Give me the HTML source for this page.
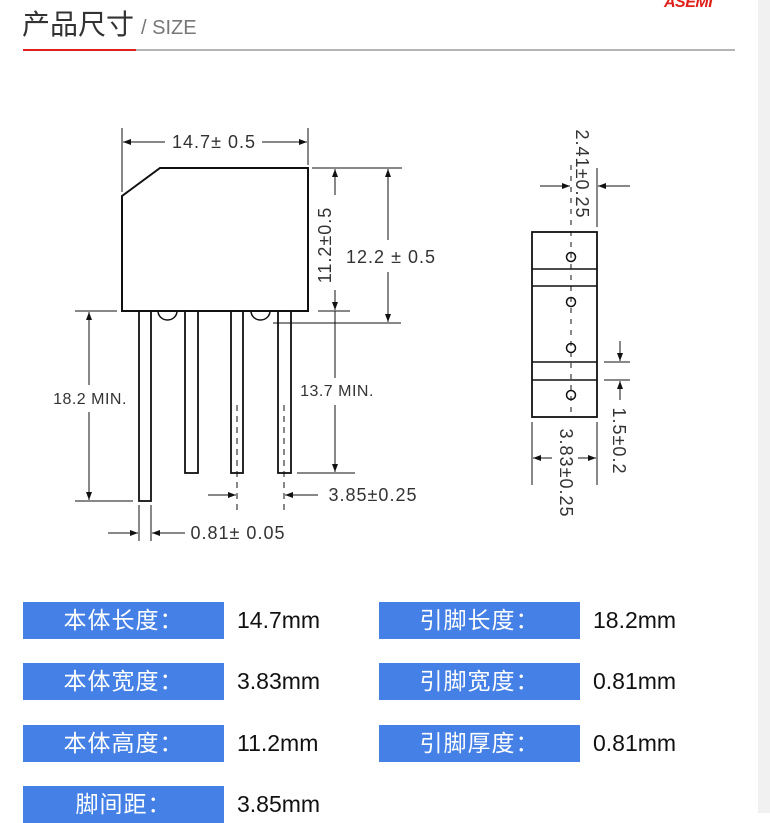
<!DOCTYPE html>
<html><head><meta charset="utf-8"><style>
body{margin:0;width:770px;height:813px;overflow:hidden;background:#fff;position:relative;font-family:"Liberation Sans","Noto Sans CJK SC",sans-serif}
.strip{position:absolute;left:758px;top:0;width:12px;height:813px;background:#f1f1f1}
.lbl{position:absolute;width:201px;height:37px;background:#4580e6;color:#fff;font-size:23px;line-height:37px;text-align:center;letter-spacing:1px}
.val{position:absolute;font-size:23px;line-height:37px;color:#111}
</style></head><body>
<div class="strip"></div>
<div style="position:absolute;left:22px;top:3px;font-size:28px;color:#333">产品尺寸<span style="font-size:20px;color:#777;margin-left:7px">/ SIZE</span></div>
<div style="position:absolute;left:664px;top:-6px;font-size:16px;font-weight:bold;font-style:italic;color:#e0201a;letter-spacing:-0.5px">ASEMI</div>
<div style="position:absolute;left:23px;top:49px;width:712px;height:2px;background:#b5b5b5"></div>
<div style="position:absolute;left:23px;top:49px;width:113px;height:2px;background:#e02020"></div>
<svg width="770" height="813" style="position:absolute;left:0;top:0" font-family="Liberation Sans, sans-serif" font-size="15" fill="#333">
<defs><marker id="a" markerWidth="8" markerHeight="6" refX="8" refY="3" orient="auto" markerUnits="userSpaceOnUse"><path d="M0,0 L8,3 L0,6z" fill="#111"/></marker></defs>
<g stroke="#111" fill="none" stroke-width="1">
<path d="M160,168 L308,168 L308,311 L122,311 L122,196 Z" stroke-width="2"/>
<rect x="139" y="311" width="12" height="190" stroke-width="1.8"/>
<rect x="185" y="311" width="13" height="162" stroke-width="1.8"/>
<rect x="231" y="311" width="12" height="162" stroke-width="1.8"/>
<rect x="278" y="311" width="13" height="162" stroke-width="1.8"/>
<path d="M158,311 A9.5,9 0 0 0 177,311" stroke-width="1.5"/>
<path d="M251,311 A9.5,9 0 0 0 270,311" stroke-width="1.5"/>
<line x1="122" y1="128" x2="122" y2="192"/><line x1="308" y1="128" x2="308" y2="165"/>
<line x1="165" y1="142" x2="123" y2="142" marker-end="url(#a)"/><line x1="262" y1="142" x2="307" y2="142" marker-end="url(#a)"/>
<line x1="312" y1="168" x2="402" y2="168"/><line x1="318" y1="311" x2="350" y2="311"/><line x1="273" y1="323" x2="401" y2="323"/>
<line x1="335" y1="195" x2="335" y2="169" marker-end="url(#a)"/><line x1="335" y1="290" x2="335" y2="310" marker-end="url(#a)"/>
<line x1="335" y1="311" x2="335" y2="378"/><line x1="335" y1="405" x2="335" y2="472" marker-end="url(#a)"/>
<line x1="297" y1="473" x2="355" y2="473"/>
<line x1="388" y1="240" x2="388" y2="169" marker-end="url(#a)"/><line x1="388" y1="272" x2="388" y2="322" marker-end="url(#a)"/>
<line x1="75" y1="311" x2="117" y2="311"/><line x1="75" y1="501" x2="133" y2="501"/>
<line x1="89" y1="385" x2="89" y2="312" marker-end="url(#a)"/><line x1="89" y1="412" x2="89" y2="500" marker-end="url(#a)"/>
<line x1="237" y1="405" x2="237" y2="510" stroke-dasharray="6,5"/><line x1="284" y1="405" x2="284" y2="510" stroke-dasharray="6,5"/>
<line x1="208" y1="495" x2="236" y2="495" marker-end="url(#a)"/><line x1="318" y1="495" x2="285" y2="495" marker-end="url(#a)"/>
<line x1="139" y1="505" x2="139" y2="541"/><line x1="151" y1="505" x2="151" y2="541"/>
<line x1="108" y1="533" x2="138" y2="533" marker-end="url(#a)"/><line x1="185" y1="533" x2="152" y2="533" marker-end="url(#a)"/>
<rect x="532" y="232" width="65" height="185" stroke-width="1.8"/>
<line x1="532" y1="269" x2="597" y2="269" stroke-width="1.5"/><line x1="532" y1="286" x2="597" y2="286" stroke-width="1.5"/>
<line x1="532" y1="362" x2="597" y2="362" stroke-width="1.5"/><line x1="532" y1="380" x2="597" y2="380" stroke-width="1.5"/>
<circle cx="571" cy="257" r="4.5" stroke-width="1.5"/><circle cx="571" cy="302" r="4.5" stroke-width="1.5"/><circle cx="571" cy="348" r="4.5" stroke-width="1.5"/><circle cx="571" cy="395" r="4.5" stroke-width="1.5"/>
<line x1="571" y1="165" x2="571" y2="415" stroke-dasharray="5,6"/>
<line x1="597" y1="168" x2="597" y2="227"/>
<line x1="540" y1="186" x2="570" y2="186" marker-end="url(#a)"/><line x1="630" y1="186" x2="598" y2="186" marker-end="url(#a)"/>
<line x1="604" y1="362" x2="630" y2="362"/><line x1="604" y1="380" x2="630" y2="380"/>
<line x1="620" y1="341" x2="620" y2="361" marker-end="url(#a)"/><line x1="620" y1="400" x2="620" y2="381" marker-end="url(#a)"/>
<line x1="532" y1="422" x2="532" y2="485"/><line x1="597" y1="422" x2="597" y2="485"/>
<line x1="552" y1="458" x2="533" y2="458" marker-end="url(#a)"/><line x1="578" y1="458" x2="596" y2="458" marker-end="url(#a)"/>
</g>
<g stroke="none" font-size="18" letter-spacing="1">
<text x="214" y="148" text-anchor="middle">14.7± 0.5</text>
<text x="391" y="263" text-anchor="middle">12.2 ± 0.5</text>
<text transform="translate(331,245) rotate(-90)" text-anchor="middle">11.2±0.5</text>
<text x="337" y="396" text-anchor="middle" font-size="16" letter-spacing="0.5">13.7 MIN.</text>
<text x="90" y="404" text-anchor="middle" font-size="16" letter-spacing="0.5">18.2 MIN.</text>
<text x="373" y="501" text-anchor="middle">3.85±0.25</text>
<text x="238" y="539" text-anchor="middle">0.81± 0.05</text>
<text transform="translate(576,174) rotate(90)" text-anchor="middle">2.41±0.25</text>
<text transform="translate(613,441) rotate(90)" text-anchor="middle">1.5±0.2</text>
<text transform="translate(560,473) rotate(90)" text-anchor="middle">3.83±0.25</text>
</g>
</svg>
<div class="lbl" style="left:23px;top:602px">本体长度：</div><div class="val" style="left:237px;top:602px">14.7mm</div>
<div class="lbl" style="left:379px;top:602px">引脚长度：</div><div class="val" style="left:593px;top:602px">18.2mm</div>
<div class="lbl" style="left:23px;top:663px">本体宽度：</div><div class="val" style="left:237px;top:663px">3.83mm</div>
<div class="lbl" style="left:379px;top:663px">引脚宽度：</div><div class="val" style="left:593px;top:663px">0.81mm</div>
<div class="lbl" style="left:23px;top:725px">本体高度：</div><div class="val" style="left:237px;top:725px">11.2mm</div>
<div class="lbl" style="left:379px;top:725px">引脚厚度：</div><div class="val" style="left:593px;top:725px">0.81mm</div>
<div class="lbl" style="left:23px;top:786px">脚间距：</div><div class="val" style="left:237px;top:786px">3.85mm</div>
</body></html>
